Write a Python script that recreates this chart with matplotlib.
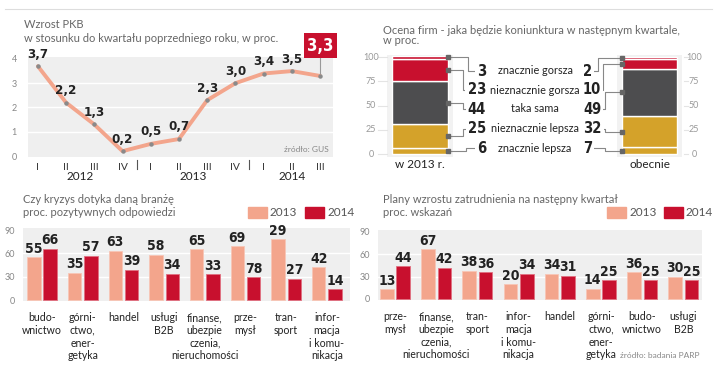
import matplotlib
matplotlib.use('Agg')
import matplotlib.pyplot as plt
from matplotlib.transforms import blended_transform_factory, offset_copy

# --- data ---
quarters = ['I', 'II', 'III', 'IV', 'I', 'II', 'III', 'IV', 'I', 'II', 'III']
years = ['2012', '2013', '2014']
gdp = [3.7, 2.2, 1.3, 0.2, 0.5, 0.7, 2.3, 3.0, 3.4, 3.5, 3.3]

outlook_cats = ['znacznie gorsza', 'nieznacznie gorsza', 'taka sama',
                'nieznacznie lepsza', 'znacznie lepsza']
outlook_2013 = [3, 23, 44, 25, 6]
outlook_now = [2, 10, 49, 32, 7]

crisis_cats = ['budo-\nwnictwo', 'górni-\nctwo,\nener-\ngetyka', 'handel', 'usługi\nB2B',
               'finanse,\nubezpie\nczenia,\nnieruchomości', 'prze-\nmysł', 'tran-\nsport',
               'infor-\nmacja\ni komu-\nnikacja']
crisis_2013 = [55, 35, 63, 58, 65, 69, 78, 42]
crisis_2014 = [66, 57, 39, 34, 33, 29, 27, 14]
# labels as printed in the source graphic
crisis_lab_2013 = ['55', '35', '63', '58', '65', '69', '29', '42']
crisis_lab_2014 = ['66', '57', '39', '34', '33', '78', '27', '14']

hire_cats = ['prze-\nmysł', 'finanse,\nubezpie\nczenia,\nnieruchomości', 'tran-\nsport',
             'infor-\nmacja\ni komu-\nnikacja', 'handel', 'górni-\nctwo,\nener-\ngetyka',
             'budo-\nwnictwo', 'usługi\nB2B']
hire_2013 = [13, 67, 38, 20, 34, 14, 36, 30]
hire_2014 = [44, 42, 36, 34, 31, 25, 25, 25]

# --- style ---
W, H = 720, 369
SALMON = '#f3a58c'
RED = '#c8102e'
GOLD = '#d4a22a'
DARK = '#4d4d4f'
BG = '#efefef'
TXT = '#666666'
NUM = dict(family=['DejaVu Sans'], fontstretch='condensed', fontweight='bold', color='#222222')
SANS = ['Lato', 'DejaVu Sans']
plt.rcParams['font.family'] = SANS

fig = plt.figure(figsize=(W / 100, H / 100), dpi=100)


def px_axes(x0, y0, x1, y1):
    return fig.add_axes([x0 / W, 1 - y1 / H, (x1 - x0) / W, (y1 - y0) / H])


def ftext(x, y, s, **kw):
    fig.text(x / W, 1 - y / H, s, **kw)


# top rule
fig.add_artist(plt.Line2D([5 / W, 712 / W], [1 - 9 / H] * 2, color='#dddddd', lw=0.8))

# ================= GDP line =================
ftext(24, 25, 'Wzrost PKB', fontsize=8, color=TXT, va='center')
ftext(24, 39, 'w stosunku do kwartału poprzedniego roku, w proc.', fontsize=8, color=TXT, va='center')

ax = px_axes(28, 57, 333, 157)
ax.set_facecolor(BG)
x = list(range(len(gdp)))
ax.set_xlim(-0.35, 10.46)
ax.set_ylim(-0.04, 4.08)
for g in [1, 2, 3]:
    ax.axhline(g, color='white', lw=1, zorder=1)
ax.plot(x, gdp, color=SALMON, lw=2.8, zorder=3, solid_capstyle='round')
ax.plot(x, gdp, 'o', color='#8a8a8a', ms=2.2, zorder=4)
for i, v in enumerate(gdp[:-1]):
    ax.annotate(f'{v:.1f}'.replace('.', ','), (i, v), xytext=(0, 4), textcoords='offset points',
                ha='center', va='bottom', fontsize=9.5, **NUM)
last = len(gdp) - 1
ax.plot([last, last], [gdp[-1], 4.27], color='#999999', lw=0.8, clip_on=False, zorder=2)
ax.text(last, 4.55, f'{gdp[-1]:.1f}'.replace('.', ','), ha='center', va='center', fontsize=12,
        fontweight='bold', family=['DejaVu Sans'], fontstretch='condensed', color='white',
        clip_on=False, bbox=dict(boxstyle='square,pad=0.2', fc=RED, ec='none'))
for s in ax.spines.values():
    s.set_visible(False)
ax.set_yticks([0, 1, 2, 3, 4])
ax.set_yticklabels(['0', '1', '2', '3', '4'], fontsize=6.5, color='#888888')
ax.tick_params(axis='y', length=0, pad=8)
ax.set_xticks(x)
ax.set_xticklabels(quarters, fontsize=7.5, color='#333333')
ax.tick_params(axis='x', length=0, pad=4)
tr = blended_transform_factory(ax.transData, ax.transAxes)
for sep in [3.5, 7.5]:
    ax.plot([sep, sep], [-0.03, -0.12], color='#555555', lw=0.8, transform=tr, clip_on=False)
for k, yr in enumerate(years):
    idx = [i for i in range(len(quarters)) if i // 4 == k]
    ax.text(sum(idx) / len(idx), -0.2, yr, transform=tr, ha='center', va='center',
            fontsize=8.5, color='#222222')
ax.text(10.3, 0.25, 'źródło: GUS', ha='right', va='center', fontsize=6, color='#888888')

# ================= outlook stacked bars =================
ftext(383, 30, 'Ocena firm - jaka będzie koniunktura w następnym kwartale,', fontsize=8,
      color=TXT, va='center')
ftext(383, 41, 'w proc.', fontsize=8, color=TXT, va='center')

ax2 = px_axes(360, 50, 720, 170)
ppu = 0.97  # pixels per percent
ax2.set_xlim(360, 720)
ax2.set_ylim((154 - 170) / ppu, (154 - 50) / ppu)
ax2.axis('off')
colors = [RED, RED, DARK, GOLD, GOLD]
bars = [(420, 56, outlook_2013), (649.5, 55, outlook_now)]
for cx, w, vals in bars:
    ax2.bar(cx, 105, bottom=-3, width=w + 10, color='#f2f2f2', zorder=0)
    bottom = 0
    for v, c in zip(vals[::-1], colors[::-1]):
        ax2.bar(cx, v, bottom=bottom, width=w, color=c, edgecolor='white', lw=1, zorder=2)
        bottom += v
for t in [0, 25, 50, 75, 100]:
    ax2.text(371, t, str(t), ha='center', va='center', fontsize=6.5, color='#999999')
    ax2.text(694, t, str(t), ha='center', va='center', fontsize=6.5, color='#999999')
    ax2.plot([378, 387], [t, t], color='#e4e4e4', lw=0.8, zorder=0)
    ax2.plot([684, 688], [t, t], color='#e4e4e4', lw=0.8, zorder=0)
ax2.text(420, (154 - 164) / ppu, 'w 2013 r.', ha='center', va='center', fontsize=8.5, color='#222222')
ax2.text(649.5, (154 - 164) / ppu, 'obecnie', ha='center', va='center', fontsize=8.5, color='#222222')

rows_px = [71, 90, 109, 128.5, 148]
row_y = [(154 - r) / ppu for r in rows_px]


def mids(vals):
    out, top = [], sum(vals)
    for v in vals:
        out.append(min(top - v / 2, 100))
        top -= v
    return out


mid_l, mid_r = mids(outlook_2013), mids(outlook_now)
elbow_l = [468, 463, 463, 463, 466]
elbow_r = [598, 603, 605, 605, 605]
for k in range(len(outlook_cats)):
    ry = row_y[k]
    ax2.plot([448, elbow_l[k], elbow_l[k], 484], [mid_l[k], mid_l[k], ry, ry],
             color='#888888', lw=0.8, zorder=3)
    ax2.plot([622, elbow_r[k], elbow_r[k], 585], [mid_r[k], mid_r[k], ry, ry],
             color='#888888', lw=0.8, zorder=3)
    ax2.plot([448], [mid_l[k]], 's', color='#666666', ms=3.5, zorder=4)
    ax2.plot([622], [mid_r[k]], 's', color='#666666', ms=3.5, zorder=4)
    ax2.text(486, ry, str(outlook_2013[k]), ha='right', va='center', fontsize=10.5, zorder=5,
             bbox=dict(boxstyle='square,pad=0.15', fc='white', ec='none'), **NUM)
    ax2.text(583, ry, str(outlook_now[k]), ha='left', va='center', fontsize=10.5, zorder=5,
             bbox=dict(boxstyle='square,pad=0.15', fc='white', ec='none'), **NUM)
    ax2.text(535, ry, outlook_cats[k], ha='center', va='center', fontsize=7.8, color='#222222')


# ================= grouped bar charts =================
def grouped(x0, x1, y_top, y0, ppu, c0, step, cats, v13, v14, l13, l14, title, sub, tx, legx):
    ftext(tx, 200, title, fontsize=8, color=TXT, va='center')
    ftext(tx, 212, sub, fontsize=8, color=TXT, va='center')
    a = px_axes(x0, y_top, x1, y0 + 1)
    a.set_facecolor(BG)
    a.set_xlim((x0 - c0) / step, (x1 - c0) / step)
    a.set_ylim(-1 / ppu, (y0 - y_top) / ppu)
    for g in [30, 60]:
        a.axhline(g, color='white', lw=1, zorder=1)
    pos = list(range(len(cats)))
    a.bar([p - 0.2 for p in pos], v13, width=0.33, color=SALMON, edgecolor='#f7c6b6', lw=0.6, zorder=2)
    a.bar([p + 0.2 for p in pos], v14, width=0.33, color=RED, edgecolor='#e07080', lw=0.6, zorder=2)
    for p, v, l in zip(pos, v13, l13):
        a.text(p - 0.2, v + 2, l, ha='center', va='bottom', fontsize=10, **NUM)
    for p, v, l in zip(pos, v14, l14):
        a.text(p + 0.2, v + 2, l, ha='center', va='bottom', fontsize=10, **NUM)
    for s in a.spines.values():
        s.set_visible(False)
    a.set_yticks([0, 30, 60, 90])
    a.set_yticklabels(['0', '30', '60', '90'], fontsize=6.5, color='#888888')
    a.tick_params(axis='y', length=0, pad=6)
    a.set_xticks([])
    # category labels, one text per line
    btr = blended_transform_factory(a.transData, a.transAxes)
    for p, cat in zip(pos, cats):
        for j, line in enumerate(cat.split('\n')):
            a.text(p, 0, line, ha='center', va='top', fontsize=7.6, color='#222222',
                   transform=offset_copy(btr, fig=fig, y=-(8 + 9.2 * j), units='points'))
    # legend
    fig.add_artist(plt.Rectangle((legx / W, 1 - 218 / H), 19 / W, 11 / H, color=SALMON))
    ftext(legx + 22, 212, '2013', fontsize=8.5, color='#555555', va='center')
    fig.add_artist(plt.Rectangle(((legx + 57) / W, 1 - 218 / H), 19 / W, 11 / H, color=RED))
    ftext(legx + 79, 212, '2014', fontsize=8.5, color='#555555', va='center')
    return a


grouped(23, 350, 228, 300, 70 / 90, 42, 40.7, crisis_cats, crisis_2013, crisis_2014,
        crisis_lab_2013, crisis_lab_2014, 'Czy kryzys dotyka daną branżę',
        'proc. pozytywnych odpowiedzi', 23, 248)
grouped(378, 702, 230, 299, 67 / 90, 395, 41.2, hire_cats, hire_2013, hire_2014,
        [str(v) for v in hire_2013], [str(v) for v in hire_2014],
        'Plany wzrostu zatrudnienia na następny kwartał', 'proc. wskazań', 383, 607)
ftext(700, 355, 'źródło: badania PARP', fontsize=6, color='#888888', ha='right', va='center')

fig.savefig('out.png', dpi=100)
